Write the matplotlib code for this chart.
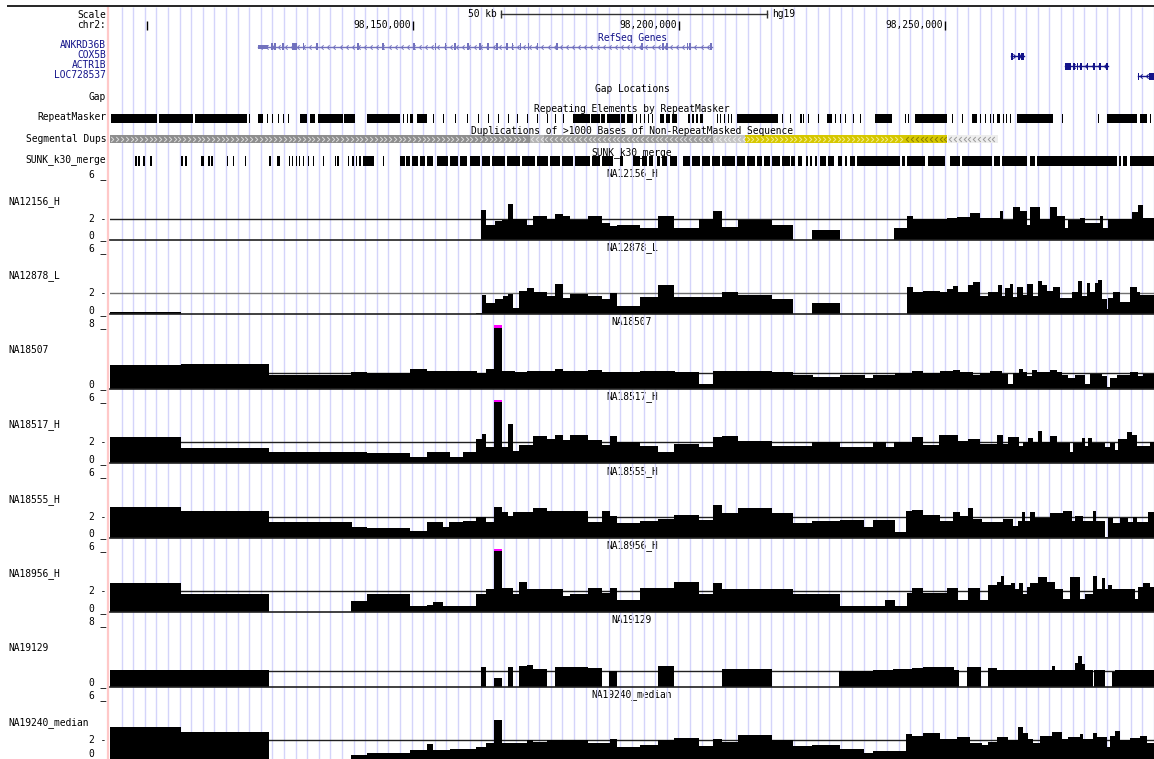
import numpy as np
import matplotlib
matplotlib.use("Agg")
import matplotlib.pyplot as plt
from matplotlib.path import Path

plt.rcParams['font.family'] = ['DejaVu Sans Mono']
plt.rcParams['font.size'] = 6.9

# positions are kb past chr2:98,000,000
X0, X1 = 93.0, 289.25

ruler_ticks = [100.0, 150.0, 200.0, 250.0]
ruler_labels = ['', '98,150,000', '98,200,000', '98,250,000']
scale_bar = (166.5, 216.5)

gene_names = ['ANKRD36B', 'COX5B', 'ACTR1B', 'LOC728537']
gene_span = [(120.8, 206.2), (262.4, 264.8), (272.5, 280.6), (286.2, 289.3)]
gene_strand = ['-', '+', '-', '-']
ankrd36b_exons = [(120.8, 122.7), (123.3, 123.6), (123.9, 124.2), (125.4, 125.7), (127.2, 128.1),
                  (129.2, 129.5), (131.8, 132.1), (139.5, 139.8), (144.2, 144.5), (150.0, 150.3),
                  (154.0, 154.3), (155.9, 156.2), (157.7, 158.0), (160.2, 160.5), (162.4, 162.7),
                  (163.9, 164.2), (165.6, 165.9), (167.5, 167.8), (168.5, 168.8), (170.0, 170.3),
                  (171.5, 171.8), (173.2, 173.5), (176.9, 177.2), (192.9, 193.2), (196.8, 197.1),
                  (197.6, 197.9), (201.4, 201.7), (201.9, 202.2), (205.7, 206.2)]
cox5b_exons = [(262.4, 262.7), (263.6, 264.0), (264.3, 264.8)]
actr1b_exons = [(272.5, 273.7), (274.1, 274.4), (274.7, 275.0), (275.4, 275.7), (276.6, 276.9),
                (277.8, 278.1), (279.0, 279.3), (280.3, 280.6)]
loc728537_exons = [(286.2, 286.4), (288.4, 289.3)]
gene_exons = [ankrd36b_exons, cox5b_exons, actr1b_exons, loc728537_exons]

repeat_blocks = [(93.1, 101.9), (102.2, 108.6), (109.0, 118.7), (119.1, 119.3), (120.8, 121.7),
                 (122.5, 122.7), (123.4, 123.6), (124.6, 124.8), (125.5, 125.7), (126.4, 126.6),
                 (128.7, 130.0), (130.6, 131.5), (132.1, 136.8), (137.0, 139.0), (141.3, 147.5),
                 (148.1, 148.3), (148.8, 149.0), (149.4, 150.0), (150.7, 152.6), (153.7, 153.9),
                 (155.6, 155.8), (157.8, 158.0), (160.1, 160.3), (162.2, 162.4), (164.0, 164.2),
                 (165.9, 166.1), (167.8, 168.0), (169.5, 169.7), (171.4, 171.6), (173.3, 173.5),
                 (175.1, 175.3), (176.6, 176.8), (178.1, 178.3), (180.0, 183.2), (183.4, 185.1),
                 (185.3, 186.0), (186.4, 188.9), (189.0, 189.8), (190.2, 191.3), (191.9, 192.1),
                 (192.6, 192.8), (193.4, 193.6), (194.1, 194.3), (194.9, 195.1), (196.4, 197.1),
                 (197.5, 198.3), (198.6, 199.6), (201.6, 202.0), (202.4, 202.8), (203.1, 203.5),
                 (203.9, 204.5), (207.1, 207.3), (207.7, 207.9), (208.4, 208.6), (209.2, 209.4),
                 (209.7, 209.9), (210.9, 218.6), (219.3, 219.5), (220.8, 221.0), (222.7, 223.1),
                 (223.3, 223.5), (224.2, 224.4), (226.1, 226.3), (227.8, 228.7), (229.3, 229.5),
                 (230.2, 230.4), (231.2, 231.4), (232.7, 232.9), (234.0, 234.2), (236.8, 240.0),
                 (242.4, 242.6), (243.0, 243.2), (244.3, 250.3), (251.3, 251.5), (253.2, 253.4),
                 (255.0, 256.0), (256.5, 256.7), (257.5, 257.7), (258.4, 258.6), (259.0, 259.2),
                 (259.7, 260.3), (260.9, 261.1), (261.4, 261.6), (262.2, 262.4), (263.5, 270.3),
                 (272.0, 272.2), (278.7, 278.9), (280.4, 286.1), (286.6, 287.9), (288.5, 288.7)]

segdup_blocks = [(93.0, 171.9), (171.9, 174.6), (174.6, 206.3), (206.3, 212.4),
                 (212.4, 242.4), (242.4, 250.3), (250.5, 259.9)]
segdup_strand = ['+', '-', '-', '-', '+', '-', '-']
segdup_color = ['#8e8e8e', '#b4b4b4', '#9c9c9c', '#c4c4c4', '#d6c800', '#d6c800', '#ededed']
segdup_mark = ['#dcdcdc', '#e6e6e6', '#e0e0e0', '#eeeeee', '#f4ec90', '#8a7e00', '#9a9a9a']

sunk_blocks = [(97.7, 98.1), (98.2, 98.6), (99.2, 99.6), (100.5, 100.9), (106.3, 106.7),
               (107.1, 107.5), (110.1, 110.7), (111.4, 111.8), (112.0, 112.3), (115.0, 115.2),
               (116.1, 116.3), (118.4, 118.6), (122.9, 123.2), (124.4, 124.9), (126.6, 126.8),
               (127.2, 127.4), (127.9, 128.1), (128.5, 128.7), (129.3, 129.5), (130.2, 130.4),
               (131.1, 131.3), (133.0, 133.2), (135.3, 135.5), (135.7, 136.0), (137.7, 138.0),
               (138.5, 138.8), (139.2, 139.5), (139.9, 140.1), (140.5, 142.6), (144.3, 144.5),
               (147.5, 148.4), (148.6, 149.4), (149.8, 150.9), (151.3, 152.2), (152.6, 153.7),
               (154.5, 156.5), (156.9, 158.4), (158.8, 160.1), (160.7, 162.5), (162.9, 164.4),
               (164.8, 167.2), (167.6, 170.1), (170.4, 172.9), (173.3, 175.3), (175.7, 177.6),
               (178.0, 180.0), (180.4, 183.2), (183.6, 185.1), (185.5, 187.5), (188.9, 189.4),
               (191.3, 192.6), (193.0, 193.9), (194.3, 195.1), (195.8, 196.4), (196.8, 197.7),
               (198.3, 199.6), (200.7, 202.0), (202.4, 203.9), (204.3, 205.8), (206.2, 207.7),
               (208.0, 210.5), (210.9, 212.4), (212.7, 214.2), (214.6, 215.6), (215.9, 217.1),
               (217.4, 218.9), (219.3, 220.8), (221.0, 221.8), (222.3, 223.1), (223.8, 224.2),
               (224.6, 225.0), (225.5, 225.9), (226.5, 227.6), (228.0, 229.1), (229.8, 230.6),
               (231.2, 231.5), (232.1, 233.0), (233.4, 241.5), (241.9, 242.4), (242.8, 246.2),
               (246.8, 250.0), (250.9, 252.8), (253.2, 258.8), (259.2, 260.3), (260.7, 265.4),
               (265.9, 266.9), (267.3, 282.3), (282.7, 283.0), (283.4, 284.2), (284.7, 289.3)]

# wiggle tracks: (bin start kb, copy number)
na12156_h = [(93.0, 0), (162.7, 2.86), (163.7, 1.36), (165.4, 1.76), (166.7, 1.86), (167.8, 3.36),
             (168.7, 2.0), (169.7, 1.93), (171.4, 1.36), (172.5, 2.23), (175.1, 2.0), (176.6, 2.43),
             (178.1, 2.26), (179.5, 1.86), (182.8, 2.23), (185.5, 1.6), (187.0, 1.33), (188.3, 1.4),
             (192.6, 1.1), (196.0, 2.23), (199.0, 1.1), (203.7, 2.0), (206.3, 2.73), (208.0, 1.26),
             (211.0, 1.86), (217.4, 1.36), (221.4, 0), (225.0, 0.9), (230.2, 0), (240.4, 1.16),
             (242.8, 2.26), (243.9, 1.96), (250.3, 2.1), (252.2, 2.2), (254.7, 2.53), (256.5, 2.1),
             (260.3, 2.7), (260.9, 1.83), (262.7, 3.1), (264.1, 2.76), (265.4, 1.4), (265.9, 3.1),
             (267.8, 1.93), (269.7, 3.1), (271.0, 2.26), (272.5, 1.1), (273.1, 1.83), (275.3, 2.1),
             (276.3, 1.6), (279.1, 2.3), (279.7, 1.1), (280.6, 1.93), (285.1, 2.6), (286.2, 3.3),
             (287.2, 2.1)]
na12878_l = [(93.0, 0.23), (106.3, 0), (161.8, 0.13), (162.9, 1.8), (163.7, 1.07), (165.4, 1.4),
             (166.9, 1.73), (167.8, 1.9), (168.7, 0.57), (169.9, 2.23), (171.4, 2.47), (172.7, 2.07),
             (175.1, 1.73), (176.6, 2.9), (178.1, 1.57), (179.5, 1.9), (182.8, 1.73), (185.5, 1.4),
             (187.0, 2.0), (188.3, 0.8), (192.6, 1.67), (196.0, 2.73), (199.0, 1.63), (208.0, 2.07),
             (211.0, 1.8), (217.4, 1.4), (221.4, 0), (225.0, 1.07), (230.2, 0), (242.8, 2.57),
             (243.9, 2.07), (245.8, 2.23), (249.0, 2.07), (250.3, 2.4), (251.5, 2.67), (252.4, 2.07),
             (254.3, 2.8), (255.2, 3.07), (256.5, 1.73), (258.0, 2.07), (259.9, 2.73), (260.7, 1.73),
             (261.2, 2.47), (262.2, 2.9), (262.7, 1.67), (263.5, 2.57), (264.6, 1.8), (265.4, 2.9),
             (266.5, 1.73), (267.4, 3.13), (268.2, 2.73), (269.1, 2.23), (270.3, 2.57), (271.6, 1.57),
             (273.8, 2.07), (274.9, 3.13), (275.7, 1.73), (276.7, 3.0), (277.2, 2.07), (278.2, 3.0),
             (278.7, 3.2), (279.5, 1.4), (280.4, 0.5), (280.6, 1.57), (281.5, 2.07), (282.9, 1.13),
             (284.7, 2.57), (286.1, 2.07), (286.6, 1.8)]
na18507 = [(93.0, 3.0), (106.3, 3.13), (122.9, 1.75), (138.3, 2.17), (141.3, 2.04), (149.4, 2.5),
           (152.6, 2.3), (153.7, 2.2), (156.9, 2.3), (159.3, 2.2), (162.0, 2.04), (163.7, 2.5),
           (165.2, 9.0), (166.7, 2.2), (169.1, 2.1), (171.4, 2.25), (176.6, 2.5), (178.1, 2.2),
           (182.8, 2.4), (185.5, 2.1), (192.6, 2.2), (199.2, 2.15), (203.7, 0.6), (206.3, 2.2),
           (211.0, 2.3), (217.4, 2.1), (221.4, 1.67), (225.1, 1.46), (230.2, 1.67), (234.9, 1.33),
           (236.4, 1.75), (240.6, 2.0), (243.8, 2.3), (245.8, 2.04), (249.0, 2.2), (251.5, 2.4),
           (252.8, 2.15), (255.2, 1.67), (256.5, 2.0), (258.4, 2.2), (260.7, 1.9), (261.8, 0.6),
           (262.7, 2.0), (263.9, 2.5), (264.6, 2.1), (265.4, 1.6), (266.3, 2.4), (267.3, 2.1),
           (269.7, 2.4), (271.0, 2.1), (272.0, 1.75), (273.1, 1.33), (274.4, 1.75), (276.3, 0.6),
           (277.2, 1.9), (279.5, 1.6), (280.4, 0.25), (281.0, 1.33), (282.3, 1.67), (284.7, 2.1),
           (286.2, 1.6), (287.2, 1.8)]
na18517_h = [(93.0, 2.52), (106.3, 1.46), (122.9, 1.07), (141.3, 0.97), (149.4, 0.55), (152.6, 1.07),
             (156.9, 0.55), (159.3, 1.04), (161.8, 2.26), (162.9, 2.75), (163.7, 1.55), (165.2, 7.0),
             (166.7, 1.55), (167.8, 3.72), (168.7, 1.13), (169.9, 1.68), (172.5, 2.58), (175.1, 2.26),
             (176.6, 2.68), (178.1, 2.16), (179.5, 2.68), (182.8, 2.16), (185.5, 1.68), (187.0, 2.58),
             (188.3, 2.0), (192.6, 1.62), (196.0, 1.04), (199.0, 1.78), (203.7, 1.52), (206.3, 2.49),
             (208.0, 2.58), (211.0, 2.1), (217.4, 1.62), (225.0, 2.0), (230.2, 1.52), (236.4, 2.0),
             (238.9, 1.52), (240.4, 2.0), (243.8, 2.52), (245.8, 1.68), (248.8, 2.65), (252.4, 2.1),
             (254.3, 2.26), (256.5, 1.78), (259.7, 2.65), (260.9, 1.78), (261.8, 2.49), (263.9, 1.62),
             (264.6, 2.0), (265.6, 2.42), (266.5, 2.0), (267.4, 3.07), (268.2, 2.0), (269.7, 2.58),
             (271.0, 1.94), (273.5, 1.04), (274.0, 1.94), (275.7, 2.42), (276.3, 1.62), (276.8, 2.42),
             (277.6, 1.94), (280.0, 1.52), (281.0, 1.94), (281.9, 1.2), (282.5, 2.26), (284.2, 2.96),
             (285.1, 2.65), (286.1, 1.62), (288.5, 2.0)]
na18555_h = [(93.0, 2.88), (106.3, 2.48), (122.9, 1.47), (138.5, 1.01), (141.3, 0.95), (149.4, 0.65),
             (152.6, 1.47), (155.6, 0.98), (156.7, 1.47), (159.3, 1.57), (161.8, 2.0), (163.7, 1.47),
             (165.2, 2.88), (166.7, 2.45), (167.8, 2.06), (168.7, 2.39), (172.5, 2.78), (175.1, 2.48),
             (176.6, 2.55), (182.8, 1.47), (185.5, 2.55), (187.0, 2.06), (188.3, 1.41), (192.6, 1.57),
             (196.0, 1.8), (199.0, 2.12), (203.7, 1.67), (206.3, 3.1), (208.0, 2.32), (211.0, 2.78),
             (217.4, 2.32), (221.4, 1.41), (225.0, 1.57), (230.2, 1.63), (234.7, 0.98), (236.4, 1.67),
             (240.6, 0.52), (242.6, 2.55), (243.8, 2.65), (245.8, 2.12), (249.0, 1.57), (251.5, 2.39),
             (252.8, 2.06), (254.3, 2.78), (255.2, 1.8), (256.9, 1.5), (260.9, 1.73), (262.7, 1.08),
             (263.7, 1.57), (264.4, 2.39), (265.0, 1.57), (265.9, 2.39), (266.9, 1.83), (269.7, 2.32),
             (272.1, 2.48), (273.8, 1.57), (274.4, 2.06), (275.9, 1.57), (277.8, 2.55), (278.3, 1.57),
             (280.0, 0.1), (280.6, 1.9), (281.5, 1.41), (282.9, 1.9), (284.4, 1.47), (285.3, 2.0),
             (286.1, 1.47), (288.1, 2.39)]
na18956_h = [(93.0, 2.71), (106.3, 1.67), (122.9, 0), (138.3, 1.08), (141.3, 1.7), (149.4, 0.59),
             (152.6, 0.69), (153.7, 0.92), (155.6, 0.59), (161.8, 1.73), (163.7, 2.22), (165.2, 7.0),
             (166.7, 2.32), (168.7, 1.73), (169.9, 2.81), (171.4, 2.22), (178.1, 1.5), (179.5, 1.73),
             (182.8, 2.29), (185.5, 1.83), (187.0, 2.29), (188.3, 1.18), (192.6, 2.32), (199.0, 2.88),
             (203.7, 1.73), (206.3, 2.78), (208.0, 2.22), (221.4, 1.73), (230.2, 0.59), (238.7, 1.14),
             (240.6, 0.59), (242.8, 1.8), (243.8, 2.29), (245.8, 1.8), (250.3, 2.29), (252.4, 1.14),
             (254.3, 2.29), (256.5, 1.14), (258.0, 2.55), (259.7, 2.88), (260.5, 3.37), (261.1, 2.55),
             (262.4, 2.71), (263.1, 2.22), (263.9, 2.71), (264.6, 1.73), (265.4, 2.39), (265.9, 2.71),
             (267.4, 3.3), (269.1, 2.81), (270.6, 2.22), (272.1, 1.24), (273.5, 3.3), (275.3, 1.24),
             (276.3, 1.73), (277.8, 3.37), (278.5, 2.22), (279.5, 3.27), (280.0, 2.22), (280.6, 2.61),
             (281.4, 2.22), (285.7, 1.24), (286.2, 2.39), (287.2, 2.71), (288.5, 2.39)]
na19129 = [(93.0, 2.13), (106.3, 2.04), (122.9, 0), (162.7, 2.44), (163.7, 0), (165.2, 1.02),
           (166.7, 0), (167.8, 2.44), (168.7, 0), (169.9, 2.58), (171.4, 2.76), (172.5, 2.22),
           (175.1, 0), (176.6, 2.44), (182.8, 2.31), (185.5, 0), (186.8, 1.91), (188.3, 0),
           (196.0, 2.58), (199.0, 0), (208.0, 2.22), (217.4, 0), (230.0, 1.91), (236.4, 2.13),
           (240.2, 2.22), (243.8, 2.31), (245.8, 2.44), (251.7, 2.13), (252.6, 0), (254.1, 2.44),
           (256.7, 0), (258.0, 2.31), (259.7, 2.09), (262.2, 2.04), (265.4, 2.13), (270.1, 2.58),
           (270.6, 2.13), (274.4, 3.0), (274.9, 3.9), (275.7, 2.9), (276.3, 2.13), (277.8, 0),
           (278.0, 2.13), (280.0, 0), (281.4, 1.78), (281.9, 2.09)]
na19240_median = [(93.0, 3.22), (106.3, 2.76), (122.9, 0.15), (138.3, 0.6), (141.3, 0.8), (149.4, 1.02),
                  (152.6, 1.58), (153.7, 1.02), (156.9, 1.12), (159.3, 1.18), (161.8, 1.35), (163.7, 1.67),
                  (165.2, 3.88), (166.7, 1.67), (168.7, 1.74), (171.4, 2.0), (172.5, 1.84), (175.1, 1.94),
                  (182.8, 1.74), (187.0, 2.07), (188.3, 1.35), (192.6, 1.51), (196.0, 2.0), (199.0, 2.17),
                  (203.7, 1.41), (206.3, 2.07), (208.0, 1.84), (211.0, 2.5), (217.4, 2.0), (221.4, 1.41),
                  (225.0, 1.51), (230.2, 1.18), (234.7, 0.8), (236.4, 0.95), (242.6, 2.6), (243.8, 2.4),
                  (245.8, 2.66), (249.0, 2.07), (252.2, 2.27), (254.7, 1.74), (256.9, 1.51), (258.0, 1.84),
                  (259.7, 2.27), (261.8, 2.0), (263.7, 3.25), (264.6, 2.66), (265.6, 2.07), (266.5, 1.74),
                  (267.8, 2.4), (270.1, 2.73), (272.0, 2.07), (273.1, 2.27), (275.3, 2.6), (275.9, 2.07),
                  (277.8, 2.66), (278.5, 2.27), (280.4, 1.28), (281.0, 2.33), (281.9, 2.82), (282.9, 1.94),
                  (284.7, 2.17), (286.6, 2.4), (287.9, 1.74)]

track_names = ['NA12156_H', 'NA12878_L', 'NA18507', 'NA18517_H',
               'NA18555_H', 'NA18956_H', 'NA19129', 'NA19240_median']
track_max = [6, 6, 8, 6, 6, 6, 8, 6]
track_data = [na12156_h, na12878_l, na18507, na18517_h, na18555_h, na18956_h, na19129, na19240_median]

W, H = 1154, 759
LEFT = 110
fig = plt.figure(figsize=(W / 100, H / 100), dpi=100)

# page frame in pixel units (labels, borders)
frame = fig.add_axes([0, 0, 1, 1])
frame.set_xlim(0, W)
frame.set_ylim(H, 0)
frame.axis('off')
frame.hlines(6, 7, W, color='black', lw=1.2)
frame.vlines(108, 7, H, color='#ffc8c8', lw=1.6)

# header tracks: x in kb, y in pixel rows
hdr = fig.add_axes([LEFT / W, 0, 1 - LEFT / W, 1])
hdr.set_xlim(X0, X1)
hdr.set_ylim(H, 0)
hdr.axis('off')
hdr.vlines(np.arange(95.2, X1, 2.18), 7, H, color='#d4d4fa', lw=1, zorder=0)

def chevron(strand):
    s = 1 if strand == '+' else -1
    return Path([(-0.5 * s, 1), (0.5 * s, 0), (-0.5 * s, -1)],
                [Path.MOVETO, Path.LINETO, Path.LINETO])

mid = (X0 + X1) / 2
navy = '#14148a'

# ruler
frame.text(106, 14.5, 'Scale', ha='right', va='center')
frame.text(106, 25, 'chr2:', ha='right', va='center')
hdr.plot(scale_bar, [14, 14], color='#333333', lw=1)
hdr.vlines(scale_bar, 10, 18, color='#333333', lw=1)
hdr.annotate('50 kb', (scale_bar[0], 14), xytext=(-4, 0), textcoords='offset pixels',
             ha='right', va='center')
hdr.annotate('hg19', (scale_bar[1], 14), xytext=(5, 0), textcoords='offset pixels',
             ha='left', va='center')
hdr.vlines(ruler_ticks, 20.5, 29.5, color='black', lw=1)
for t, lab in zip(ruler_ticks, ruler_labels):
    hdr.annotate(lab, (t, 25), xytext=(-2, 0), textcoords='offset pixels', ha='right', va='center')

# RefSeq genes
hdr.text(mid, 38, 'RefSeq Genes', ha='center', va='center', color=navy)
gene_rows = [46.5, 56, 66, 76]
gene_colors = ['#7272be', navy, navy, navy]
for name, (g0, g1), strand, exons, yrow, col in zip(gene_names, gene_span, gene_strand,
                                                     gene_exons, gene_rows, gene_colors):
    frame.text(106, yrow - 1.5, name, ha='right', va='center', color=navy)
    hdr.plot([g0, g1], [yrow, yrow], color=col, lw=1)
    xs = np.arange(g0 + 0.6, g1 - 0.3, 1.15)
    hdr.plot(xs, np.full(len(xs), yrow), ls='none', marker=chevron(strand), ms=3.2,
             mew=0.7, mfc='none', mec=col)
    for k, (e0, e1) in enumerate(exons):
        h = 4 if (k == 0 and name == 'ANKRD36B') else 7
        hdr.broken_barh([(e0, e1 - e0)], (yrow - h / 2, h), color=col, lw=0)

# Gap
hdr.text(mid, 88.5, 'Gap Locations', ha='center', va='center')
frame.text(106, 96.5, 'Gap', ha='right', va='center')

# RepeatMasker
hdr.text(mid, 109.5, 'Repeating Elements by RepeatMasker', ha='center', va='center')
frame.text(106, 117.5, 'RepeatMasker', ha='right', va='center')
hdr.broken_barh([(a, b - a) for a, b in repeat_blocks], (114, 9), color='black', lw=0)

# Segmental dups
hdr.text(mid, 130.5, 'Duplications of >1000 Bases of Non-RepeatMasked Sequence',
         ha='center', va='center')
frame.text(106, 138.5, 'Segmental Dups', ha='right', va='center')
for (a, b), strand, col, mc in zip(segdup_blocks, segdup_strand, segdup_color, segdup_mark):
    hdr.broken_barh([(a, b - a)], (135, 8), color=col, lw=0)
    xs = np.arange(a + 0.45, b - 0.2, 0.9)
    hdr.plot(xs, np.full(len(xs), 139), ls='none', marker=chevron(strand), ms=3.6,
             mew=0.7, mfc='none', mec=mc)

# SUNK
hdr.text(mid, 152.3, 'SUNK_k30_merge', ha='center', va='center')
frame.text(106, 160, 'SUNK_k30_merge', ha='right', va='center')
hdr.broken_barh([(a, b - a) for a, b in sunk_blocks], (156, 9.5), color='black', lw=0)

# wiggle tracks
for i, (name, ymax, data) in enumerate(zip(track_names, track_max, track_data)):
    top = 176.5 + 74.45 * i
    ht = 63.3
    ax = fig.add_axes([LEFT / W, 1 - (top + ht) / H, 1 - LEFT / W, ht / H])
    ax.set_xlim(X0, X1)
    ax.set_ylim(0, ymax)
    ax.axis('off')
    starts = [d[0] for d in data]
    vals = np.array([d[1] for d in data])
    edges = starts + [X1]
    line_col = '#707070' if name == 'NA12878_L' else '#202020'
    ax.axhline(2, color=line_col, lw=1, zorder=1)
    ax.stairs(vals, edges, baseline=0, fill=True, color='black', lw=0, zorder=2)
    ax.axhline(0, color='#202020', lw=1.2, zorder=3, clip_on=False)
    cap = ymax * 2.5 / ht
    for k in np.where(vals > ymax)[0]:
        ax.fill_between([edges[k], edges[k + 1]], ymax - cap, ymax, color='#ff00ff', lw=0, zorder=4)

    frame.text(632, top - 3, name, ha='center', va='center')
    frame.text(8, top + 25, name, ha='left', va='center')
    frame.text(106, top - 2, '%d _' % ymax, ha='right', va='center')
    if ymax == 6:
        frame.text(106, top + ht * (1 - 2 / ymax), '2 -', ha='right', va='center')
    frame.text(106, min(top + ht - 4, H - 5), '0 _', ha='right', va='center')

fig.savefig('out.png', dpi=100)
